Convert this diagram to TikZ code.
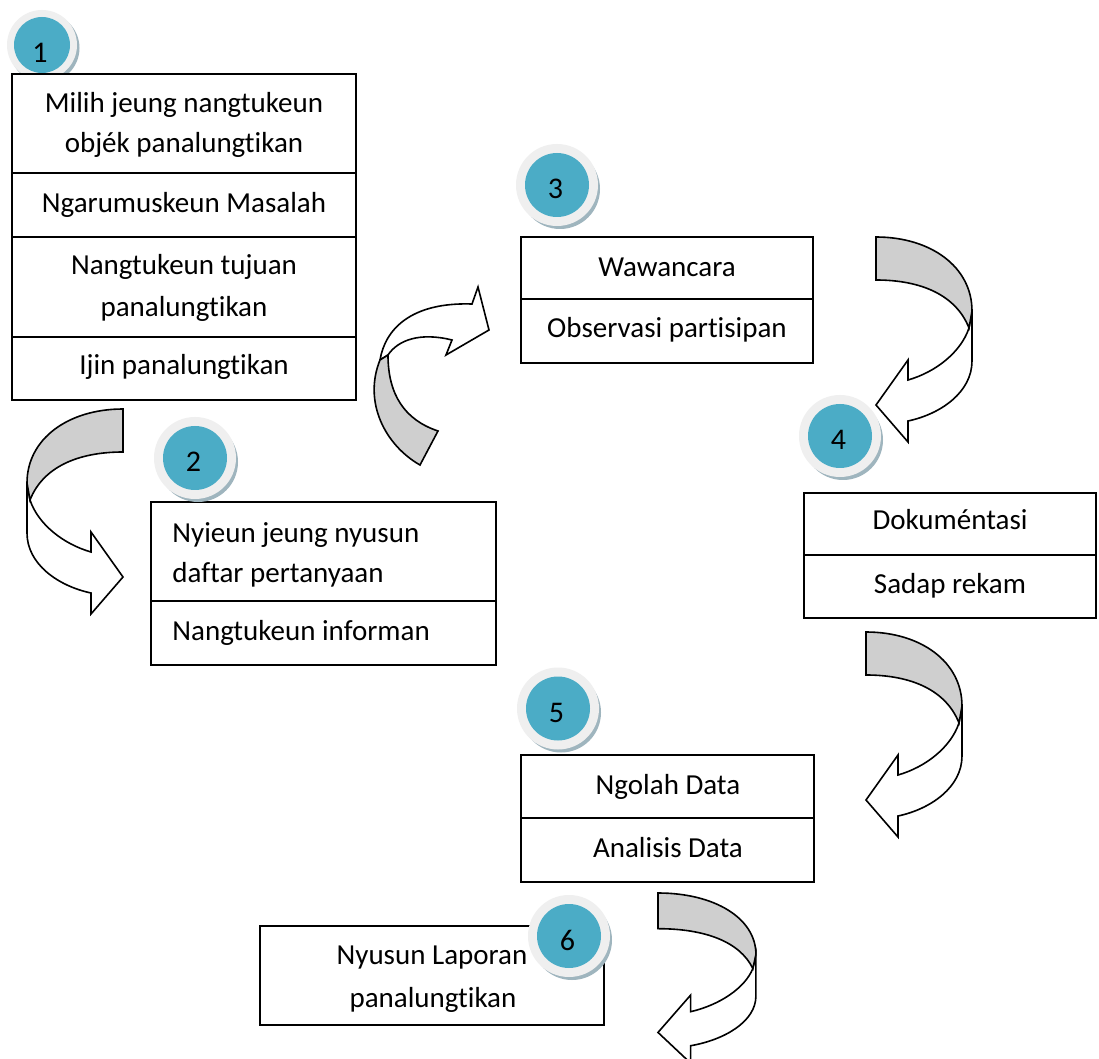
\documentclass[tikz,border=0pt]{standalone}
\usepackage{fontspec}
\setmainfont{Carlito}[Ligatures=NoCommon]
\definecolor{tealC}{HTML}{4BACC6}
\definecolor{haloC}{HTML}{EFEFEF}
\definecolor{shadowC}{HTML}{9FB5BE}
\definecolor{arrowC}{HTML}{CFCFCF}
\tikzset{
  cell/.style={draw, line width=1pt, fill=white, rectangle, inner sep=0pt},
  txt/.style={inner sep=0pt, anchor=base, font=\fontsize{14.5}{20}\selectfont},
  txtl/.style={txt, anchor=base west},
  arrW/.style={draw, line width=0.8pt, fill=white, line join=miter},
  arrG/.style={draw, line width=0.8pt, fill=arrowC, line join=miter},
  shadowdisc/.style={circle, fill=shadowC, inner sep=0pt},
  halodisc/.style={circle, fill=haloC, inner sep=0pt},
  tealdisc/.style={circle, fill=tealC, inner sep=0pt},
  numtxt/.style={inner sep=0pt, anchor=center, font=\fontsize{15}{20}\selectfont}
}
\newcommand\uturnshape{%
  \path[arrW] (-96,74) -- (-96,124) .. controls (-96,155) and (-65,177) .. (-32,184)
     -- (-32,205) -- (0,168) -- (-32,123) -- (-32,143)
     .. controls (-60,135) and (-85,115) .. (-93,91) -- cycle;
  \path[arrG] (0,0) .. controls (-55,0) and (-96,30) .. (-96,74) -- (-93,91)
     .. controls (-80,58) and (-45,43) .. (0,43) -- cycle;
}
\begin{document}
\begin{tikzpicture}[x=0.5pt, y=-0.5pt]
\useasboundingbox[fill=white] (0,0) rectangle (1099,1059);

% circle 1 (behind box 1)
\node[shadowdisc, minimum size=35pt] (s1) at (44.5,48) {};
\node[halodisc, minimum size=35pt] (h1) at (42,45) {};
\node[tealdisc, minimum size=28pt] (c1) at (42,45) {};
\node[numtxt] (n1) at (40,52.5) {1};

% box 1
\node[cell, minimum width=172pt, minimum height=49.5pt] (b1a) at (184,123.5) {};
\node[cell, minimum width=172pt, minimum height=32pt] (b1b) at (184,205) {};
\node[cell, minimum width=172pt, minimum height=50pt] (b1c) at (184,287) {};
\node[cell, minimum width=172pt, minimum height=31.5pt] (b1d) at (184,368.5) {};
\node[txt] (t1a1) at (184,113) {Milih jeung nangtukeun};
\node[txt] (t1a2) at (184,153) {objék panalungtikan};
\node[txt] (t1b) at (184,213) {Ngarumuskeun Masalah};
\node[txt] (t1c1) at (184,275) {Nangtukeun tujuan};
\node[txt] (t1c2) at (184,317) {panalungtikan};
\node[txt] (t1d) at (184,375) {Ijin panalungtikan};

% box 2
\node[cell, minimum width=172.5pt, minimum height=49.5pt] (b2a) at (323.5,551.5) {};
\node[cell, minimum width=172.5pt, minimum height=32pt] (b2b) at (323.5,633) {};
\node[txtl] (t2a1) at (172,542) {Nyieun jeung nyusun};
\node[txtl] (t2a2) at (172,582) {daftar pertanyaan};
\node[txtl] (t2b) at (172,640) {Nangtukeun informan};

% box 3
\node[cell, minimum width=146pt, minimum height=31pt] (b3a) at (667,268) {};
\node[cell, minimum width=146pt, minimum height=32pt] (b3b) at (667,331) {};
\node[txt] (t3a) at (667,277) {Wawancara};
\node[txt] (t3b) at (667,338) {Observasi partisipan};

% box 4
\node[cell, minimum width=146pt, minimum height=31pt] (b4a) at (950,524) {};
\node[cell, minimum width=146pt, minimum height=31.5pt] (b4b) at (950,586.5) {};
\node[txt] (t4a) at (950,530) {Dokuméntasi};
\node[txt] (t4b) at (950,593) {Sadap rekam};

% box 5
\node[cell, minimum width=146.5pt, minimum height=31.5pt] (b5a) at (667.5,786.5) {};
\node[cell, minimum width=146.5pt, minimum height=32pt] (b5b) at (667.5,850) {};
\node[txt] (t5a) at (668,794) {Ngolah Data};
\node[txt] (t5b) at (668,857) {Analisis Data};

% box 6
\node[cell, minimum width=172pt, minimum height=49.5pt] (b6) at (432,975.5) {};
\node[txt] (t6a) at (432,964) {Nyusun Laporan};
\node[txt] (t6b) at (433,1007) {panalungtikan};

% circles 2-6
\foreach \nm/\cx/\cy in {2/195/458, 3/557/185, 4/840/436, 5/558/708.5, 6/569/936}{
  \node[shadowdisc, minimum size=40pt] (s\nm) at (\cx+3,\cy+4) {};
  \node[halodisc, minimum size=41pt] (h\nm) at (\cx,\cy) {};
  \node[tealdisc, minimum size=32pt] (c\nm) at (\cx,\cy) {};
  \node[numtxt] (n\nm) at (\cx-1.5,\cy+4) {\nm};
}

% curved arrows
\begin{scope}[shift={(123,409)}]
  \uturnshape
\end{scope}
\begin{scope}[shift={(876,237)}, xscale=-1]
  \uturnshape
\end{scope}
\begin{scope}[shift={(866,632)}, xscale=-1]
  \uturnshape
\end{scope}
\begin{scope}[shift={(658,893)}, xscale=-1.02, yscale=0.83]
  \uturnshape
\end{scope}

% upward arrow between box 1/2 and box 3
\path[arrW] (380,360) .. controls (385,330) and (410,302) .. (472,304)
   -- (478,287) -- (489,330) -- (446,355) -- (452,340)
   .. controls (420,332) and (398,340) .. (388,355) -- cycle;
\path[arrG] (420,465) .. controls (385,445) and (363,402) .. (380,360)
   -- (388,355) .. controls (388,395) and (405,420) .. (438,431) -- cycle;
\end{tikzpicture}
\end{document}
